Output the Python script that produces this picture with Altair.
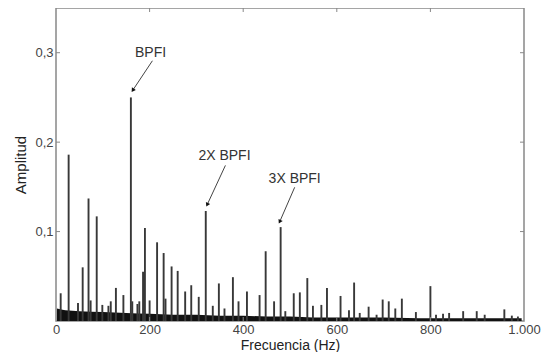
import altair as alt
import pandas as pd

# Spectral peaks (Hz, amplitude)
peak_freq = [10, 27, 47, 57, 69.5, 74, 87, 99, 112, 117, 128, 144, 160, 163, 174, 178,
             186, 190, 200, 216, 230, 234, 247, 260, 276, 289, 305, 320, 335, 348, 360,
             378, 390, 408, 435, 448, 466, 480, 490, 508, 521, 537, 549, 567, 579, 608,
             626, 637, 649, 668, 685, 698, 711, 725, 739, 769, 800, 812, 827, 840, 870,
             899, 916, 958, 974, 987]
peak_amp = [0.031, 0.186, 0.020, 0.060, 0.137, 0.023, 0.117, 0.018, 0.017, 0.022, 0.037,
            0.029, 0.250, 0.022, 0.019, 0.022, 0.055, 0.104, 0.023, 0.088, 0.076, 0.025,
            0.061, 0.056, 0.033, 0.040, 0.027, 0.123, 0.017, 0.042, 0.014, 0.049, 0.022,
            0.033, 0.029, 0.078, 0.022, 0.105, 0.011, 0.031, 0.032, 0.048, 0.017, 0.018,
            0.037, 0.028, 0.012, 0.043, 0.009, 0.016, 0.007, 0.024, 0.022, 0.014, 0.025,
            0.010, 0.039, 0.007, 0.008, 0.009, 0.011, 0.011, 0.007, 0.013, 0.006, 0.005]

# Noise floor envelope
floor_freq = [2, 20, 50, 100, 150, 200, 250, 300, 350, 400, 450, 500, 550, 600, 700, 800, 900, 995]
floor_amp = [0.014, 0.012, 0.011, 0.010, 0.009, 0.008, 0.007, 0.007, 0.006, 0.006, 0.005,
             0.005, 0.004, 0.004, 0.004, 0.003, 0.003, 0.003]

# Annotations
ann_text = ["BPFI", "2X BPFI", "3X BPFI"]
ann_tx = [202, 360, 510]
ann_ty = [0.300, 0.185, 0.159]
arrow_x0 = [206, 362, 510]
arrow_y0 = [0.291, 0.174, 0.1495]
arrow_x1 = [164, 323, 478]
arrow_y1 = [0.258, 0.130, 0.111]
arrow_angle = [214, 205, 206]

x_ticks = [0, 200, 400, 600, 800, 1000]
y_ticks = [0, 0.1, 0.2, 0.3]

W, H = 468, 313

peaks = pd.DataFrame({"f": peak_freq, "a": peak_amp})
floor = pd.DataFrame({"f": floor_freq, "a": floor_amp})
ann = pd.DataFrame({"t": ann_text, "tx": ann_tx, "ty": ann_ty,
                    "x0": arrow_x0, "y0": arrow_y0, "x1": arrow_x1, "y1": arrow_y1,
                    "ang": arrow_angle})
xt = pd.DataFrame({"v": x_ticks[1:-1]})
yt = pd.DataFrame({"v": y_ticks[1:]})

xs = alt.Scale(domain=[0, 1000], nice=False)
ys = alt.Scale(domain=[0, 0.35], nice=False)

xaxis = alt.Axis(values=x_ticks, title="Frecuencia (Hz)", grid=False, ticks=False, domain=False,
                 labelExpr="datum.value == 1000 ? '1.000' : datum.label", labelPadding=2,
                 titlePadding=2, labelFlush=False, titleFontSize=14)
yaxis = alt.Axis(values=y_ticks, title="Amplitud", grid=False, ticks=False, domain=False,
                 labelExpr="datum.value == 0 ? '' : replace(format(datum.value, '.1f'), '.', ',')",
                 labelPadding=3, titlePadding=6)

base_rules = alt.Chart(peaks).mark_rule(color="#383838", strokeWidth=1.9).encode(
    x=alt.X("f:Q", scale=xs, axis=xaxis),
    y=alt.Y("a:Q", scale=ys, axis=yaxis),
    y2=alt.datum(0),
)

floor_area = alt.Chart(floor).mark_area(color="#111111", interpolate="monotone").encode(
    x=alt.X("f:Q", scale=xs),
    y=alt.Y("a:Q", scale=ys),
    y2=alt.datum(0),
)

tick_style = dict(color="#888888", strokeWidth=1)
top_ticks = alt.Chart(xt).mark_rule(**tick_style).encode(
    x=alt.X("v:Q", scale=xs), y=alt.value(0), y2=alt.value(4))
bot_ticks = alt.Chart(xt).mark_rule(**tick_style).encode(
    x=alt.X("v:Q", scale=xs), y=alt.value(H), y2=alt.value(H - 4))
left_ticks = alt.Chart(yt).mark_rule(**tick_style).encode(
    y=alt.Y("v:Q", scale=ys), x=alt.value(0), x2=alt.value(4))
right_ticks = alt.Chart(yt).mark_rule(**tick_style).encode(
    y=alt.Y("v:Q", scale=ys), x=alt.value(W), x2=alt.value(W - 4))

arrows = alt.Chart(ann).mark_rule(color="#444444", strokeWidth=1).encode(
    x=alt.X("x0:Q", scale=xs), y=alt.Y("y0:Q", scale=ys),
    x2="x1:Q", y2="y1:Q")
heads = alt.Chart(ann).mark_point(shape="triangle-up", filled=True, color="#111111",
                                  size=22, opacity=1).encode(
    x=alt.X("x1:Q", scale=xs), y=alt.Y("y1:Q", scale=ys),
    angle=alt.Angle("ang:Q", scale=None))
labels = alt.Chart(ann).mark_text(font="Liberation Sans", fontSize=14, color="#333333",
                                  baseline="middle", align="center").encode(
    x=alt.X("tx:Q", scale=xs), y=alt.Y("ty:Q", scale=ys), text="t:N")

chart = alt.layer(floor_area, base_rules, top_ticks, bot_ticks, left_ticks, right_ticks,
                  arrows, heads, labels).properties(
    width=W, height=H,
    autosize=alt.AutoSizeParams(type="none"),
    padding={"left": 48, "top": 0, "right": 22, "bottom": 31},
    background="white",
).configure_view(stroke="#888888", strokeWidth=1.5).configure_axis(
    labelFont="Liberation Sans", labelFontSize=13, labelColor="#444444",
    titleFont="Liberation Sans", titleFontSize=15, titleColor="#222222",
    titleFontWeight="normal",
)

chart.save("out.html", embed_options={"renderer": "svg", "actions": False})
